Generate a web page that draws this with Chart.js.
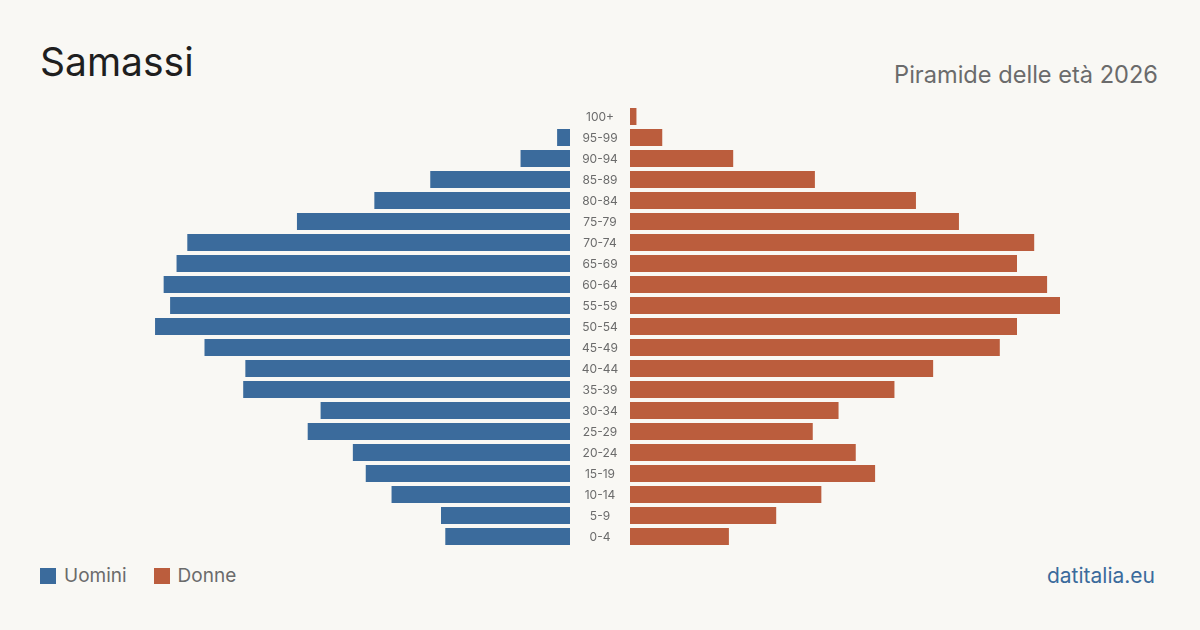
<!DOCTYPE html>
<html>
<head>
<meta charset="utf-8">
<script src="https://cdn.jsdelivr.net/npm/chart.js@4/dist/chart.umd.min.js"></script>
<style>
  html, body { margin: 0; padding: 0; }
  body { width: 1200px; height: 630px; background: #f9f8f4; position: relative; overflow: hidden; font-family: Inter, "Noto Sans", sans-serif; }
  .title { position: absolute; left: 40px; top: 42px; font-size: 39px; color: #1f1f1f; line-height: 1; }
  .subtitle { position: absolute; right: 42px; top: 63px; font-size: 23.6px; color: #6b6b6b; line-height: 1; }
  .legend { position: absolute; left: 40px; top: 566px; font-size: 19px; color: #6b6b6b; line-height: 20px; display: flex; align-items: center; }
  .legend span.box { display: inline-block; width: 16px; height: 16px; margin-right: 8px; }
  .legend span.item { display: flex; align-items: center; margin-right: 27px; }
  .source { position: absolute; right: 45px; top: 565px; font-size: 21px; color: #3b6b9c; line-height: 22px; }
  #leftWrap { position: absolute; left: 140px; top: 106px; width: 430px; height: 441px; }
  #rightWrap { position: absolute; left: 570px; top: 106px; width: 490px; height: 441px; }
</style>
</head>
<body>
<div class="title">Samassi</div>
<div class="subtitle">Piramide delle età 2026</div>
<div id="leftWrap"><canvas id="men"></canvas></div>
<div id="rightWrap"><canvas id="women"></canvas></div>
<div class="legend">
  <span class="item"><span class="box" style="background:#3b6b9c"></span>Uomini</span>
  <span class="item"><span class="box" style="background:#bb5d3d"></span>Donne</span>
</div>
<div class="source">datitalia.eu</div>

<script>
const ageGroups = ["100+", "95-99", "90-94", "85-89", "80-84", "75-79", "70-74", "65-69", "60-64", "55-59",
  "50-54", "45-49", "40-44", "35-39", "30-34", "25-29", "20-24", "15-19", "10-14", "5-9", "0-4"];
const men = [0, 6, 23, 65, 91, 127, 178, 183, 189, 186, 193, 170, 151, 152, 116, 122, 101, 95, 83, 60, 58];
const women = [3, 15, 48, 86, 133, 153, 188, 180, 194, 200, 180, 172, 141, 123, 97, 85, 105, 114, 89, 68, 46];
const maxValue = 200;

const blue = '#3b6b9c';
const orange = '#bb5d3d';

// age labels drawn in the gap between the two halves, on the y scale of the right chart
const ageLabels = {
  id: 'ageLabels',
  afterDraw(chart) {
    const ctx = chart.ctx;
    const yScale = chart.scales.y;
    ctx.save();
    ctx.fillStyle = '#6b6b6b';
    ctx.font = '12px Inter';
    ctx.textAlign = 'center';
    ctx.textBaseline = 'middle';
    chart.data.labels.forEach(function (label, i) {
      ctx.fillText(label, chart.chartArea.left - 30, yScale.getPixelForValue(i) + 1);
    });
    ctx.restore();
  }
};

const common = {
  indexAxis: 'y',
  responsive: true,
  maintainAspectRatio: false,
  animation: false,
  events: [],
  plugins: { legend: { display: false }, tooltip: { enabled: false } },
};

new Chart(document.getElementById('men'), {
  type: 'bar',
  data: {
    labels: ageGroups,
    datasets: [{
      label: 'Uomini',
      data: men,
      backgroundColor: blue,
      borderWidth: 0,
      categoryPercentage: 1,
      barPercentage: 17 / 21,
    }]
  },
  options: {
    ...common,
    layout: { padding: 0 },
    scales: {
      x: { display: false, min: 0, max: maxValue, reverse: true },
      y: { display: false },
    },
  },
});

new Chart(document.getElementById('women'), {
  type: 'bar',
  data: {
    labels: ageGroups,
    datasets: [{
      label: 'Donne',
      data: women,
      backgroundColor: orange,
      borderWidth: 0,
      categoryPercentage: 1,
      barPercentage: 17 / 21,
    }]
  },
  options: {
    ...common,
    layout: { padding: { left: 60 } },
    scales: {
      x: { display: false, min: 0, max: maxValue },
      y: { display: false },
    },
  },
  plugins: [ageLabels],
});
</script>
</body>
</html>
